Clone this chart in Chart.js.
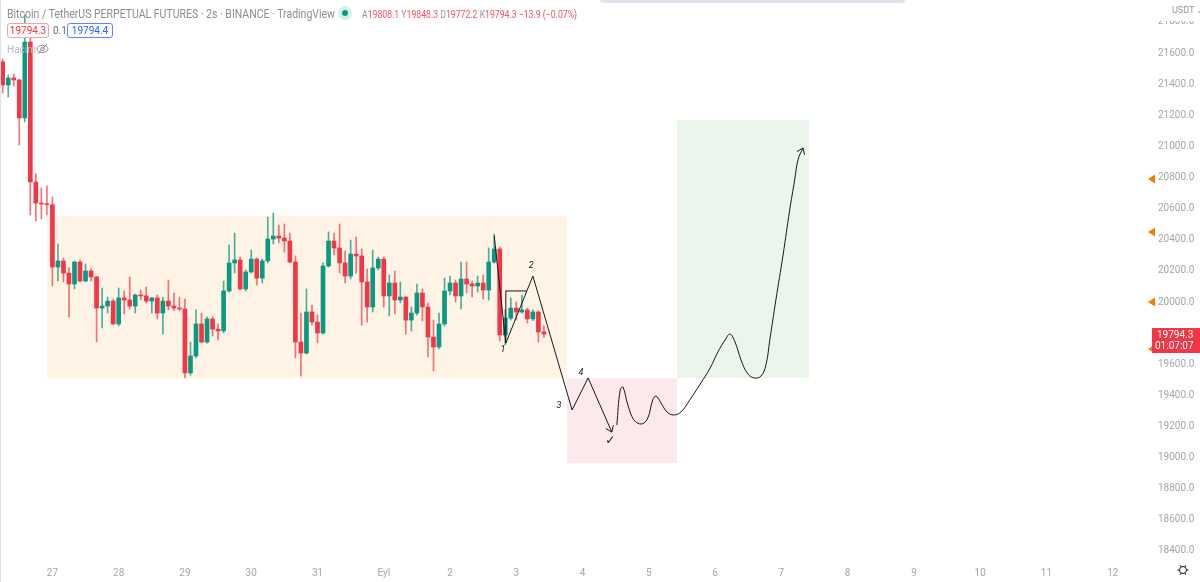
<!DOCTYPE html>
<html><head><meta charset="utf-8">
<script src="https://cdn.jsdelivr.net/npm/chart.js@4.4.1/dist/chart.umd.min.js"></script>
<style>
html,body{margin:0;padding:0;background:#fff;width:1200px;height:582px;overflow:hidden;font-family:Roboto,"Noto Sans",sans-serif;}
#wrap{position:relative;width:1200px;height:582px;}
canvas{position:absolute;left:0;top:0;}
.ov{position:absolute;white-space:nowrap;transform-origin:0 0;line-height:1;}
.box{position:absolute;box-sizing:border-box;border-radius:3px;font-size:10px;text-align:center;line-height:13px;background:#fff;}
</style></head><body>
<div id="wrap">
<canvas id="c" width="1200" height="582"></canvas>
<div style="position:absolute;left:600px;top:0;width:305px;height:3px;background:#e0e3eb;border-radius:0 0 3px 3px;"></div>
<div style="position:absolute;left:0;top:0;width:1px;height:582px;background:#e0e3eb;"></div>
<div class="ov" id="title" data-w="328" style="left:7px;top:8px;font-size:12px;color:#8b8e97;">Bitcoin / TetherUS PERPETUAL FUTURES · 2s · BINANCE · TradingView</div>
<div style="position:absolute;left:338px;top:6px;width:14px;height:14px;border-radius:7px;background:#d5efe9;"></div>
<div style="position:absolute;left:342px;top:10px;width:6px;height:6px;border-radius:3px;background:#089981;"></div>
<div class="ov" id="ohlc" data-w="215" style="left:362px;top:9px;font-size:11px;color:#f7525f;"><span style="color:#9598a1">A</span>19808.1 <span style="color:#9598a1">Y</span>19848.3 <span style="color:#9598a1">D</span>19772.2 <span style="color:#9598a1">K</span>19794.3 −13.9 (−0.07%)</div>
<div class="box" style="left:7px;top:23px;width:42px;height:15px;border:1px solid #f7a1a8;color:#f23645;">19794.3</div>
<div class="ov" style="left:53px;top:26px;font-size:10px;color:#6a6d78;">0.1</div>
<div class="box" style="left:67px;top:23px;width:46px;height:15px;border:1px solid #5b86ff;color:#2962ff;">19794.4</div>
<div class="ov" style="left:7px;top:45px;font-size:10px;color:#b8bbc3;">Hacim</div>
<svg style="position:absolute;left:36px;top:43px" width="13" height="12" viewBox="0 0 13 12"><ellipse cx="6.5" cy="6" rx="5.5" ry="3.6" fill="none" stroke="#8a8d96" stroke-width="1"/><circle cx="6.5" cy="6" r="1.8" fill="none" stroke="#8a8d96" stroke-width="1"/><line x1="2" y1="11" x2="11" y2="1" stroke="#8a8d96" stroke-width="1"/></svg>
<div style="position:absolute;left:1148px;top:0;width:52px;height:21px;background:#fff;"></div>
<div class="ov" style="left:1172px;top:6px;font-size:9px;color:#9598a1;">USDT ⌄</div>
</div>
<script>
// ---- candle data (2h candles, index 9 = 27 Aug 00:00) ----
const opens = [
21544,21395,21440,21427,21183,21671,20771,20636,20630,20625,
20225,20264,20186,20116,20257,20135,20199,20161,19961,19974,
20006,19859,20026,20013,19974,20045,20039,20006,20026,19929,
20006,19974,19961,19955,19544,19653,19859,19743,19891,19826,
19814,20071,20251,20270,20084,20193,20276,20154,20264,20405,
20424,20411,20392,20257,19743,19672,19936,19871,19801,20231,
20392,20347,20251,20167,20308,20296,20129,19968,20219,20276,
20039,20122,20013,20032,19884,19929,20058,19968,19775,19711,
19859,20071,20122,20039,20148,20116,20103,20122,20077,20257,
20341,19788,19897,19961,19936,19949,19891,19936,19808.1];
const highs = [
21562,21459,21465,21433,21845,21716,20823,20733,20746,20675,
20373,20283,20219,20264,20270,20244,20212,20165,20090,20032,
20019,20090,20071,20161,20051,20077,20096,20030,20045,20030,
20141,20058,20032,20019,19743,19949,19929,19904,19904,19859,
20135,20366,20443,20289,20206,20334,20283,20276,20546,20572,
20495,20501,20443,20296,19929,20084,19981,19916,20251,20450,
20443,20501,20328,20398,20418,20341,20212,20334,20289,20289,
20174,20199,20129,20035,19968,20116,20084,19994,19884,19929,
20154,20167,20141,20257,20257,20135,20167,20174,20347,20437,
20353,19949,20026,20000,20045,19961,19949,19942,19848.3];
const lows = [
21343,21318,21388,21009,21157,20559,20521,20533,20559,20103,
20135,20129,19904,20084,20129,20130,20135,19743,19833,19929,
19855,19846,19923,19955,19929,20013,19994,19929,19891,19794,
19949,19945,19945,19512,19530,19640,19737,19735,19781,19756,
19801,20064,20186,20077,20071,20186,20109,20122,20251,20373,
20379,20321,20251,19640,19524,19665,19852,19737,19794,20225,
20302,20186,20122,20148,20186,19852,19871,19936,20206,19968,
19910,19923,19994,19794,19814,19916,19878,19647,19557,19698,
19846,20045,20000,19955,20058,20032,20064,20019,20013,20250,
19749,19724,19884,19884,19929,19865,19880,19743,19772.2];
const closes = [
21395,21440,21427,21183,21671,20771,20636,20630,20625,20225,
20264,20186,20116,20257,20135,20199,20161,19961,19974,20006,
19859,20026,20013,19974,20045,20039,20006,20026,19929,20006,
19974,19961,19955,19544,19653,19859,19743,19891,19826,19814,
20071,20251,20270,20084,20193,20276,20154,20264,20405,20424,
20411,20392,20257,19743,19672,19936,19871,19801,20231,20392,
20347,20251,20167,20308,20296,20129,19968,20219,20276,20039,
20122,20013,20032,19884,19929,20058,19968,19775,19711,19859,
20071,20122,20039,20148,20116,20103,20122,20077,20257,20341,
19788,19897,19961,19936,19949,19891,19936,19807,19794.3];

// ---- axes ----
const dayTickPos = [9,21,33,45,57,69,81,93,105,117,129,141,153,165,177,189,201];
const dayLabels = ['27','28','29','30','31','Eyl','2','3','4','5','6','7','8','9','10','11','12'];
const priceTicks = [18400,18600,18800,19000,19200,19400,19600,20000,20200,20400,20600,20800,21000,21200,21400,21600,21800];

// ---- drawn zones (range box, target boxes) ----
const zoneStart = [8.0, 102.2, 122.1];
const zoneEnd   = [102.2, 122.1, 146.0];
const zoneLow   = [19510, 18965, 19510];
const zoneHigh  = [20555, 19510, 21170];

// ---- drawn wave path ----
const waveX = [89.0, 91.1, 96.0, 103.1, 106.0, 110.3];
const waveY = [20424, 19736, 20167, 19306, 19512, 19164];
const triX = [91.1, 91.1, 94.9];
const triY = [19736, 20071, 20071];
const curveX = [111.2,111.8,112.3,113.2,114.3,115.7,116.8,117.7,118.3,119.2,120.3,121.5,122.8,124.4,126.3,128.1,129.5,130.8,131.7,132.6,133.7,134.8,136.0,137.3,138.2,138.9,140.0,141.3,142.5,143.4,144.0,144.9];
const curveY = [19209,19434,19454,19338,19242,19216,19254,19370,19396,19351,19293,19274,19293,19370,19473,19576,19679,19756,19794,19743,19627,19544,19512,19524,19595,19756,20013,20302,20591,20784,20913,20990];
const waveLabels = ['1','2','3','4'];
const waveLabelX = [90.6, 95.7, 100.7, 104.7];
const waveLabelY = [19691, 20231, 19332, 19544];
const checkX = [110.0];
const checkY = [19107];
const alertPrices = [20790, 20450, 20000, 19698];
const lastPrice = 19794.3;
const countdown = '01:07:07';

const UP = '#089981', DOWN = '#f23645';
const isUp = opens.map((o,i)=>closes[i]>=o);
const zoneColors = ['#fff3e6','#fce9eb','#ebf5ec'];

// fit header text widths
document.querySelectorAll('[data-w]').forEach(el=>{
  const w = el.getBoundingClientRect().width;
  el.style.transform = 'scaleX(' + (parseFloat(el.dataset.w)/w) + ')';
});

const overlay = {
  id:'overlay',
  beforeDatasetsDraw(chart){
    const {ctx, chartArea:a, scales:{x,y}} = chart;
    ctx.save();
    ctx.beginPath(); ctx.rect(a.left,a.top,a.width,a.height); ctx.clip();
    zoneStart.forEach((s,i)=>{
      const x0 = x.getPixelForValue(s), x1 = x.getPixelForValue(zoneEnd[i]);
      const y0 = y.getPixelForValue(zoneHigh[i]), y1 = y.getPixelForValue(zoneLow[i]);
      ctx.fillStyle = zoneColors[i];
      ctx.fillRect(x0,y0,x1-x0,y1-y0);
    });
    ctx.restore();
  },
  afterDatasetsDraw(chart){
    const {ctx, scales:{x,y}} = chart;
    ctx.save();
    ctx.strokeStyle = '#131722'; ctx.lineWidth = 1;
    const arrow = (metaIdx)=>{
      const pts = chart.getDatasetMeta(metaIdx).data;
      const p1 = pts[pts.length-1], p0 = pts[pts.length-2];
      const ang = Math.atan2(p1.y-p0.y, p1.x-p0.x);
      ctx.beginPath();
      [Math.PI*0.8, -Math.PI*0.8].forEach(d=>{
        ctx.moveTo(p1.x,p1.y);
        ctx.lineTo(p1.x+7*Math.cos(ang+d), p1.y+7*Math.sin(ang+d));
      });
      ctx.stroke();
    };
    arrow(2); arrow(4);
    ctx.fillStyle = '#131722';
    ctx.font = 'italic 9px Roboto';
    ctx.textAlign = 'center'; ctx.textBaseline = 'middle';
    waveLabels.forEach((t,i)=>ctx.fillText(t, x.getPixelForValue(waveLabelX[i]), y.getPixelForValue(waveLabelY[i])));
    ctx.font = 'bold 12px "DejaVu Sans"';
    ctx.fillText('✓', x.getPixelForValue(checkX[0]), y.getPixelForValue(checkY[0]));
    ctx.restore();
  },
  afterDraw(chart){
    const {ctx, scales:{y}} = chart;
    const ax = y.left;
    ctx.save();
    ctx.fillStyle = '#f57c00';
    alertPrices.forEach(p=>{
      const py = y.getPixelForValue(p);
      ctx.beginPath();
      ctx.moveTo(ax+1, py); ctx.lineTo(ax+8, py-4.5); ctx.lineTo(ax+8, py+4.5); ctx.closePath(); ctx.fill();
    });
    const py = y.getPixelForValue(lastPrice);
    ctx.fillStyle = '#f23645';
    ctx.fillRect(ax+5, py-6, 1200-(ax+5), 25);
    ctx.fillStyle = '#fff';
    ctx.font = '10px Roboto'; ctx.textAlign='left'; ctx.textBaseline='middle';
    ctx.fillText(lastPrice.toFixed(1), ax+10, py+1);
    ctx.fillText(countdown, ax+8, py+12);
    // settings gear
    const gx = 1183, gy = 570;
    ctx.strokeStyle = '#131722'; ctx.lineWidth = 1;
    ctx.beginPath(); ctx.arc(gx,gy,3.5,0,Math.PI*2); ctx.stroke();
    for(let k=0;k<6;k++){const an=k*Math.PI/3; ctx.beginPath(); ctx.moveTo(gx+3.5*Math.cos(an),gy+3.5*Math.sin(an)); ctx.lineTo(gx+5.5*Math.cos(an),gy+5.5*Math.sin(an)); ctx.stroke();}
    ctx.restore();
  }
};

const idx = opens.map((_,i)=>i);
new Chart(document.getElementById('c'), {
  type:'bar',
  data:{datasets:[
    {type:'bar', data: idx.map(i=>({x:i, y:[lows[i],highs[i]]})), backgroundColor: idx.map(i=>isUp[i]?'rgba(8,153,129,0.75)':'rgba(242,54,69,0.7)'), barThickness:1, grouped:false, order:3},
    {type:'bar', data: idx.map(i=>({x:i, y:[opens[i],closes[i]]})), backgroundColor: idx.map(i=>isUp[i]?UP:DOWN), barThickness:4, grouped:false, minBarLength:1, order:2},
    {type:'line', data: waveX.map((v,i)=>({x:v,y:waveY[i]})), borderColor:'#131722', borderWidth:1, pointRadius:0, tension:0, order:0},
    {type:'line', data: triX.map((v,i)=>({x:v,y:triY[i]})), borderColor:'#131722', borderWidth:1, pointRadius:0, tension:0, order:0},
    {type:'line', data: curveX.map((v,i)=>({x:v,y:curveY[i]})), borderColor:'#131722', borderWidth:1, pointRadius:0, tension:0.4, order:0}
  ]},
  options:{
    responsive:false, animation:false, devicePixelRatio:1,
    layout:{padding:0, autoPadding:false},
    plugins:{legend:{display:false}, tooltip:{enabled:false}},
    scales:{
      x:{type:'linear', position:'bottom', min:-0.49, max:207.2, offset:false,
         grid:{display:false, drawTicks:false}, border:{display:false},
         afterBuildTicks(ax){ ax.ticks = dayTickPos.map(v=>({value:v})); },
         afterFit(ax){ ax.height = 20; ax.paddingLeft = 0; ax.paddingRight = 0; },
         ticks:{autoSkip:false, maxRotation:0, padding:5, color:'#a3a6af', font:{family:'Roboto', size:10},
           callback:(v)=>dayLabels[dayTickPos.indexOf(v)]}},
      y:{type:'linear', position:'right', min:18329, max:21941, beginAtZero:false,
         grid:{display:false, drawTicks:false}, border:{display:false},
         afterBuildTicks(ax){ ax.ticks = priceTicks.map(v=>({value:v})); },
         afterFit(ax){ ax.width = 53; ax.paddingTop = 0; ax.paddingBottom = 0; },
         ticks:{autoSkip:false, padding:11, color:'#a3a6af', font:{family:'Roboto', size:10},
           callback:(v)=>v.toFixed(1)}}
    }
  },
  plugins:[overlay]
});
</script>
</body></html>
